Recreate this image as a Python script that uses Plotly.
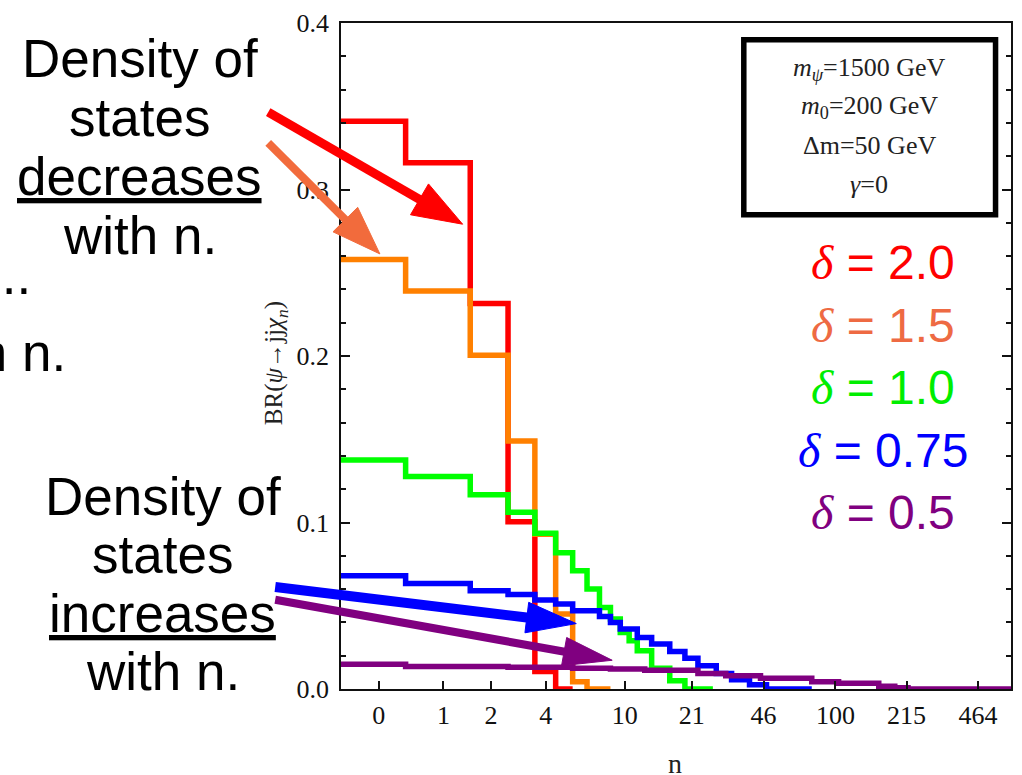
import math
import plotly.graph_objects as go

# ---------------- data ----------------
tick_n = [0, 1, 2, 4, 10, 21, 46, 100, 215, 464]
tick_labels = ["0", "1", "2", "4", "10", "21", "46", "100", "215", "464"]
y_tick_vals = [0.0, 0.1, 0.2, 0.3, 0.4]

# state index n where a new BR level starts, and the BR level
red_n = [0, 1, 2, 3, 4, 5]
red_br = [0.341, 0.316, 0.2316, 0.1004, 0.0105, 0.0]
red_last = 5

orange_n = [0, 1, 2, 3, 4, 5, 6, 7]
orange_br = [0.258, 0.239, 0.2005, 0.149, 0.093, 0.045, 0.0043, 0.0]
orange_last = 8

green_n = [0, 1, 2, 3, 4, 5, 6, 7, 8, 9, 10, 11, 12, 14, 17, 20]
green_br = [0.1375, 0.1276, 0.1167, 0.1062, 0.0935, 0.0819, 0.071, 0.060,
            0.049, 0.042, 0.034, 0.029, 0.023, 0.0125, 0.005, 0.0]
green_last = 26

blue_n = [0, 1, 2, 3, 4, 5, 6, 8, 9, 10, 12, 14, 17, 20, 23, 28, 33, 40, 48]
blue_br = [0.068, 0.0634, 0.059, 0.0568, 0.0535, 0.051, 0.047, 0.0435, 0.040,
           0.036, 0.031, 0.027, 0.0225, 0.0185, 0.014, 0.0093, 0.0055, 0.0025, 0.0]
blue_last = 77

purple_n = [0, 1, 3, 6, 9, 13, 23, 31, 45, 78, 104, 160, 190, 219]
purple_br = [0.0149, 0.0135, 0.013, 0.0125, 0.012, 0.0112, 0.0093, 0.0079,
             0.0064, 0.0044, 0.0034, 0.0017, 0.0008, 0.0]
purple_last = 660

delta_labels = ["2.0", "1.5", "1.0", "0.75", "0.5"]

# ---------------- layout geometry ----------------
W, H = 1022, 775
PL, PR, PT, PB = 341, 1013, 17, 689   # plot area in pixels
X_MIN, X_MAX = 0.5, 661.0             # axis variable v = n + 1/2 (log scale)


def px(x):
    return (x - PL) / (PR - PL)


def py(y):
    return (PB - y) / (PB - PT)


def edges(ns, brs, last):
    xs = [max(n, X_MIN) for n in ns] + [last + 1]
    ys = list(brs) + [brs[-1]]
    return xs, ys


series = [
    (red_n, red_br, red_last, "#ff0000"),
    (orange_n, orange_br, orange_last, "#ff8000"),
    (green_n, green_br, green_last, "#00ff00"),
    (blue_n, blue_br, blue_last, "#0000ff"),
    (purple_n, purple_br, purple_last, "#800080"),
]

fig = go.Figure()
for ns, brs, last, col in series:
    xs, ys = edges(ns, brs, last)
    fig.add_trace(go.Scatter(x=xs, y=ys, mode="lines", line_shape="hv",
                             line=dict(color=col, width=5.5), showlegend=False,
                             hoverinfo="skip"))

tickvals = [(X_MIN + 1) / 2 if n == 0 else n + 0.5 for n in tick_n]

serif = "Liberation Serif"
sans = "Liberation Sans"

fig.update_layout(
    width=W, height=H,
    margin=dict(l=PL, r=W - PR, t=PT, b=H - PB),
    paper_bgcolor="white", plot_bgcolor="white",
    showlegend=False,
    xaxis=dict(type="log", range=[math.log10(X_MIN), math.log10(X_MAX)],
               tickvals=tickvals, ticktext=tick_labels,
               ticks="inside", ticklen=8, tickwidth=1.5, tickcolor="#111",
               showline=True, linecolor="#111", linewidth=1.5, mirror=True,
               showgrid=False, zeroline=False, ticklabelstandoff=2,
               tickfont=dict(family=serif, size=26, color="#111")),
    yaxis=dict(range=[0, 0.4], tickvals=y_tick_vals, tickformat=".1f",
               ticks="inside", ticklen=9, tickwidth=1.5, tickcolor="#111",
               minor=dict(dtick=0.02, ticks="inside", ticklen=5, tickwidth=1.5,
                          tickcolor="#111"),
               showline=True, linecolor="#111", linewidth=1.5, mirror="ticks",
               showgrid=False, zeroline=False, ticklabelstandoff=5,
               tickfont=dict(family=serif, size=26, color="#111")),
)

anns = []


def text(x, y, s, size, color="black", family=sans, xanchor="center", angle=0):
    anns.append(dict(x=px(x), y=py(y), xref="paper", yref="paper", text=s,
                     showarrow=False, xanchor=xanchor, yanchor="middle",
                     textangle=angle,
                     font=dict(family=family, size=size, color=color)))


# axis titles
text(276, 360, "BR(<i>ψ</i>→jj<i>χ</i><sub><i>n</i></sub>)", 25, "#222", serif, angle=-90)
text(676, 764, "n", 28, "#222", serif)

# parameter box
fig.add_shape(type="rect", xref="paper", yref="paper",
              x0=px(745), x1=px(997.5), y0=py(210.5), y1=py(34),
              line=dict(color="black", width=5.5), fillcolor="white")
box_lines = ["<i>m</i><sub><i>ψ</i></sub>=1500 GeV", "<i>m</i><sub>0</sub>=200 GeV",
             "Δm=50 GeV", "<i>γ</i>=0"]
for i, s in enumerate(box_lines):
    text(871, 63 + 39 * i, s, 26, "#222", serif)

# delta labels
delta_colors = ["#ff0000", "#ee6a43", "#00ee00", "#0000ff", "#800080"]
for i, (lab, col) in enumerate(zip(delta_labels, delta_colors)):
    text(885, 259 + 63 * i,
         "<span style='font-family:Liberation Serif'><i>δ</i></span> = " + lab,
         48, col)

# explanatory texts
for i, s in enumerate(["Density of", "states", "<u>decreases</u>", "with n."]):
    text(139, 53 + 59.5 * i, s, 53)
for i, s in enumerate(["Density of", "states", "<u>increases</u>", "with n."]):
    text(162, 494.5 + 59 * i, s, 53)
text(32, 271.5, "...", 53, xanchor="right")
text(67, 349.5, "with n.", 53, xanchor="right")


# arrows: (tail, tip, colour, shaft width, head length, head width)
def arrow(tail, tip, col, w, hl, hw):
    dx, dy = tip[0] - tail[0], tip[1] - tail[1]
    L = math.hypot(dx, dy)
    ux, uy = dx / L, dy / L
    bx, by = tip[0] - ux * hl, tip[1] - uy * hl
    fig.add_shape(type="line", xref="paper", yref="paper",
                  x0=px(tail[0]), y0=py(tail[1]),
                  x1=px(bx + ux * 2), y1=py(by + uy * 2),
                  line=dict(color=col, width=w))
    nx, ny = -uy, ux
    p1 = (bx + nx * hw / 2, by + ny * hw / 2)
    p2 = (bx - nx * hw / 2, by - ny * hw / 2)
    path = "M {} {} L {} {} L {} {} Z".format(px(tip[0]), py(tip[1]),
                                               px(p1[0]), py(p1[1]),
                                               px(p2[0]), py(p2[1]))
    fig.add_shape(type="path", xref="paper", yref="paper", path=path,
                  fillcolor=col, line=dict(color=col, width=1))


arrow((268, 107), (463, 220), "#ff0000", 9, 50, 36)
arrow((268, 138), (380, 250), "#f26b3c", 8, 49, 35)
arrow((275, 586), (577, 623), "#0000ff", 10, 50, 31)
arrow((275, 599), (613, 660), "#800080", 8, 49, 29)

fig.update_layout(annotations=anns)
fig.write_html("out.html")
